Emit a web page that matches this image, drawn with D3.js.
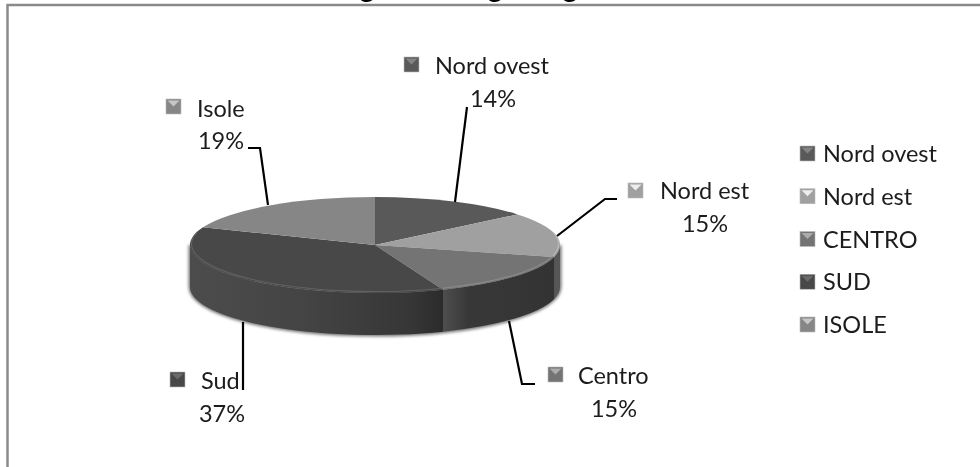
<!DOCTYPE html>
<html>
<head>
<meta charset="utf-8">
<script src="https://cdn.jsdelivr.net/npm/d3@7"></script>
<style>
  html, body { margin: 0; padding: 0; background: #fff; }
  svg { display: block; filter: blur(0.4px); }
  text { font-family: Lato, "Open Sans", sans-serif; font-size: 23.5px; fill: #1c1c1c; }
</style>
</head>
<body>
<div id="chart"></div>
<script>
// data
const categories = ['Nord ovest', 'Nord est', 'Centro', 'Sud', 'Isole'];
const legendNames = ['Nord ovest', 'Nord est', 'CENTRO', 'SUD', 'ISOLE'];
const percents = [14, 15, 15, 37, 19];
const topColors = ['#595959', '#a0a0a0', '#747474', '#484848', '#868686'];
const rimColors = ['#666666', '#c0c0c0', '#929292', '#6a6a6a', '#929292'];

// the title is cut off by the top of the picture, only the g descenders show
const titleGlyphs = ['g', 'g', 'g'];
const titleX = [367, 495, 570];

// label layout: swatch left/top, name x/baseline, percent centre/baseline
const swatchX = [404, 628, 548, 170, 166];
const swatchY = [57, 183, 367, 372, 99];
const nameX = [435, 660, 578, 201, 197];
const nameY = [74, 199, 384, 389, 117];
const pctX = [493, 705, 614, 222, 221];
const pctY = [107, 232, 417, 422, 149];
const leaders = [
  [[467, 107], [455, 202]],
  [[617, 199], [605, 199], [557, 236]],
  [[535, 384], [522, 384], [509, 321]],
  [[243, 390], [243, 322]],
  [[248, 148], [260, 148], [268, 205]]
];

const width = 980, height = 467;
const cx = 375, cy = 245, rx = 185, ry = 48, depth = 42;

const svg = d3.select('#chart').append('svg')
  .attr('width', width)
  .attr('height', height);
const defs = svg.append('defs');

defs.append('filter').attr('id', 'soft')
  .attr('x', '-5%').attr('y', '-10%').attr('width', '110%').attr('height', '120%')
  .append('feGaussianBlur').attr('stdDeviation', 1.6);

// frame, open at the bottom and on the right
svg.append('path')
  .attr('d', d3.line()([[7.5, height], [7.5, 5], [width, 5]]))
  .attr('fill', 'none')
  .attr('stroke', '#8a8a8a')
  .attr('stroke-width', 2.5);

svg.selectAll('.title-glyph')
  .data(titleGlyphs)
  .enter().append('text')
  .attr('class', 'title-glyph')
  .attr('x', (d, i) => titleX[i])
  .attr('y', -3)
  .attr('text-anchor', 'middle')
  .style('font-size', '30px')
  .style('fill', '#000')
  .text(d => d);

const pie = d3.pie().sort(null)(percents);
const pt = (a, dy = 0, k = 1) => [cx + k * rx * Math.sin(a), cy - k * ry * Math.cos(a) + dy];
const HALF = Math.PI / 2;

const wallPath = (a0, a1) => {
  const p0 = pt(a0), p1 = pt(a1), q1 = pt(a1, depth), q0 = pt(a0, depth);
  return `M${p0}A${rx} ${ry} 0 0 1 ${p1}L${q1}A${rx} ${ry} 0 0 0 ${q0}Z`;
};

// blurred shadow round the side of the pie
svg.append('path')
  .attr('d', wallPath(HALF, 3 * HALF))
  .attr('fill', '#777')
  .attr('stroke', '#777')
  .attr('stroke-width', 3)
  .attr('filter', 'url(#soft)');

// side wall, only the front half can be seen
const wallStops = [
  [['0%', '#565656'], ['100%', '#565656']],
  [['0%', '#4e4e4e'], ['22%', '#383838'], ['100%', '#333333']],
  [['0%', '#4c4c4c'], ['45%', '#444444'], ['88%', '#363636'], ['100%', '#2b2b2b']]
];
const frontSlices = pie.filter(d => d.endAngle > HALF && d.startAngle < 3 * HALF);
frontSlices.forEach((d, i) => {
  const a0 = Math.max(d.startAngle, HALF), a1 = Math.min(d.endAngle, 3 * HALF);
  const xs = [pt(a0)[0], pt(a1)[0]];
  const grad = defs.append('linearGradient')
    .attr('id', `wall${i}`)
    .attr('gradientUnits', 'userSpaceOnUse')
    .attr('x1', d3.min(xs)).attr('x2', d3.max(xs))
    .attr('y1', 0).attr('y2', 0);
  wallStops[i].forEach(s => grad.append('stop').attr('offset', s[0]).attr('stop-color', s[1]));
  svg.append('path')
    .attr('d', wallPath(a0, a1))
    .attr('fill', `url(#wall${i})`);
});

// top face: a circle arc squashed into an ellipse
const arc = d3.arc().innerRadius(0).outerRadius(rx);
const topFace = svg.append('g').attr('transform', `translate(${cx},${cy}) scale(1,${ry / rx})`);
topFace.selectAll('path')
  .data(pie)
  .enter().append('path')
  .attr('d', arc)
  .attr('fill', (d, i) => topColors[i]);

// lighter bevel along the front edge of the top face
pie.forEach((d, i) => {
  const a0 = Math.max(d.startAngle, HALF - 0.25), a1 = Math.min(d.endAngle, 3 * HALF + 0.25);
  if (a1 <= a0) return;
  const k = 0.992, p0 = pt(a0, -1, k), p1 = pt(a1, -1, k);
  svg.append('path')
    .attr('d', `M${p0}A${rx * k} ${ry * k} 0 0 1 ${p1}`)
    .attr('fill', 'none')
    .attr('stroke', rimColors[i])
    .attr('stroke-width', 1.2)
    .attr('opacity', 0.75);
});

// leader lines
svg.selectAll('.leader')
  .data(leaders)
  .enter().append('path')
  .attr('class', 'leader')
  .attr('d', d3.line())
  .attr('fill', 'none')
  .attr('stroke', '#000')
  .attr('stroke-width', 2.2);

const swatch = (x, y, size, color) => {
  const g = svg.append('g').attr('transform', `translate(${x},${y})`);
  g.append('rect')
    .attr('width', size).attr('height', size)
    .attr('fill', color)
    .attr('stroke', '#bbb').attr('stroke-width', 0.6);
  g.append('path')
    .attr('d', d3.line()([[1.5, 1.5], [size - 1.5, 1.5], [size / 2, size * 0.5]]))
    .attr('fill', d3.color(color).brighter(1.1));
};

// data labels
categories.forEach((name, i) => {
  swatch(swatchX[i], swatchY[i], 15, topColors[i]);
  svg.append('text').attr('x', nameX[i]).attr('y', nameY[i]).text(name);
  svg.append('text')
    .attr('x', pctX[i]).attr('y', pctY[i])
    .attr('text-anchor', 'middle')
    .text(`${percents[i]}%`);
});

// legend
const legendY = d3.scalePoint().domain(legendNames).range([162, 333]);
legendNames.forEach((name, i) => {
  swatch(800, legendY(name) - 16, 15, topColors[i]);
  svg.append('text').attr('x', 823).attr('y', legendY(name)).text(name);
});
</script>
</body>
</html>
